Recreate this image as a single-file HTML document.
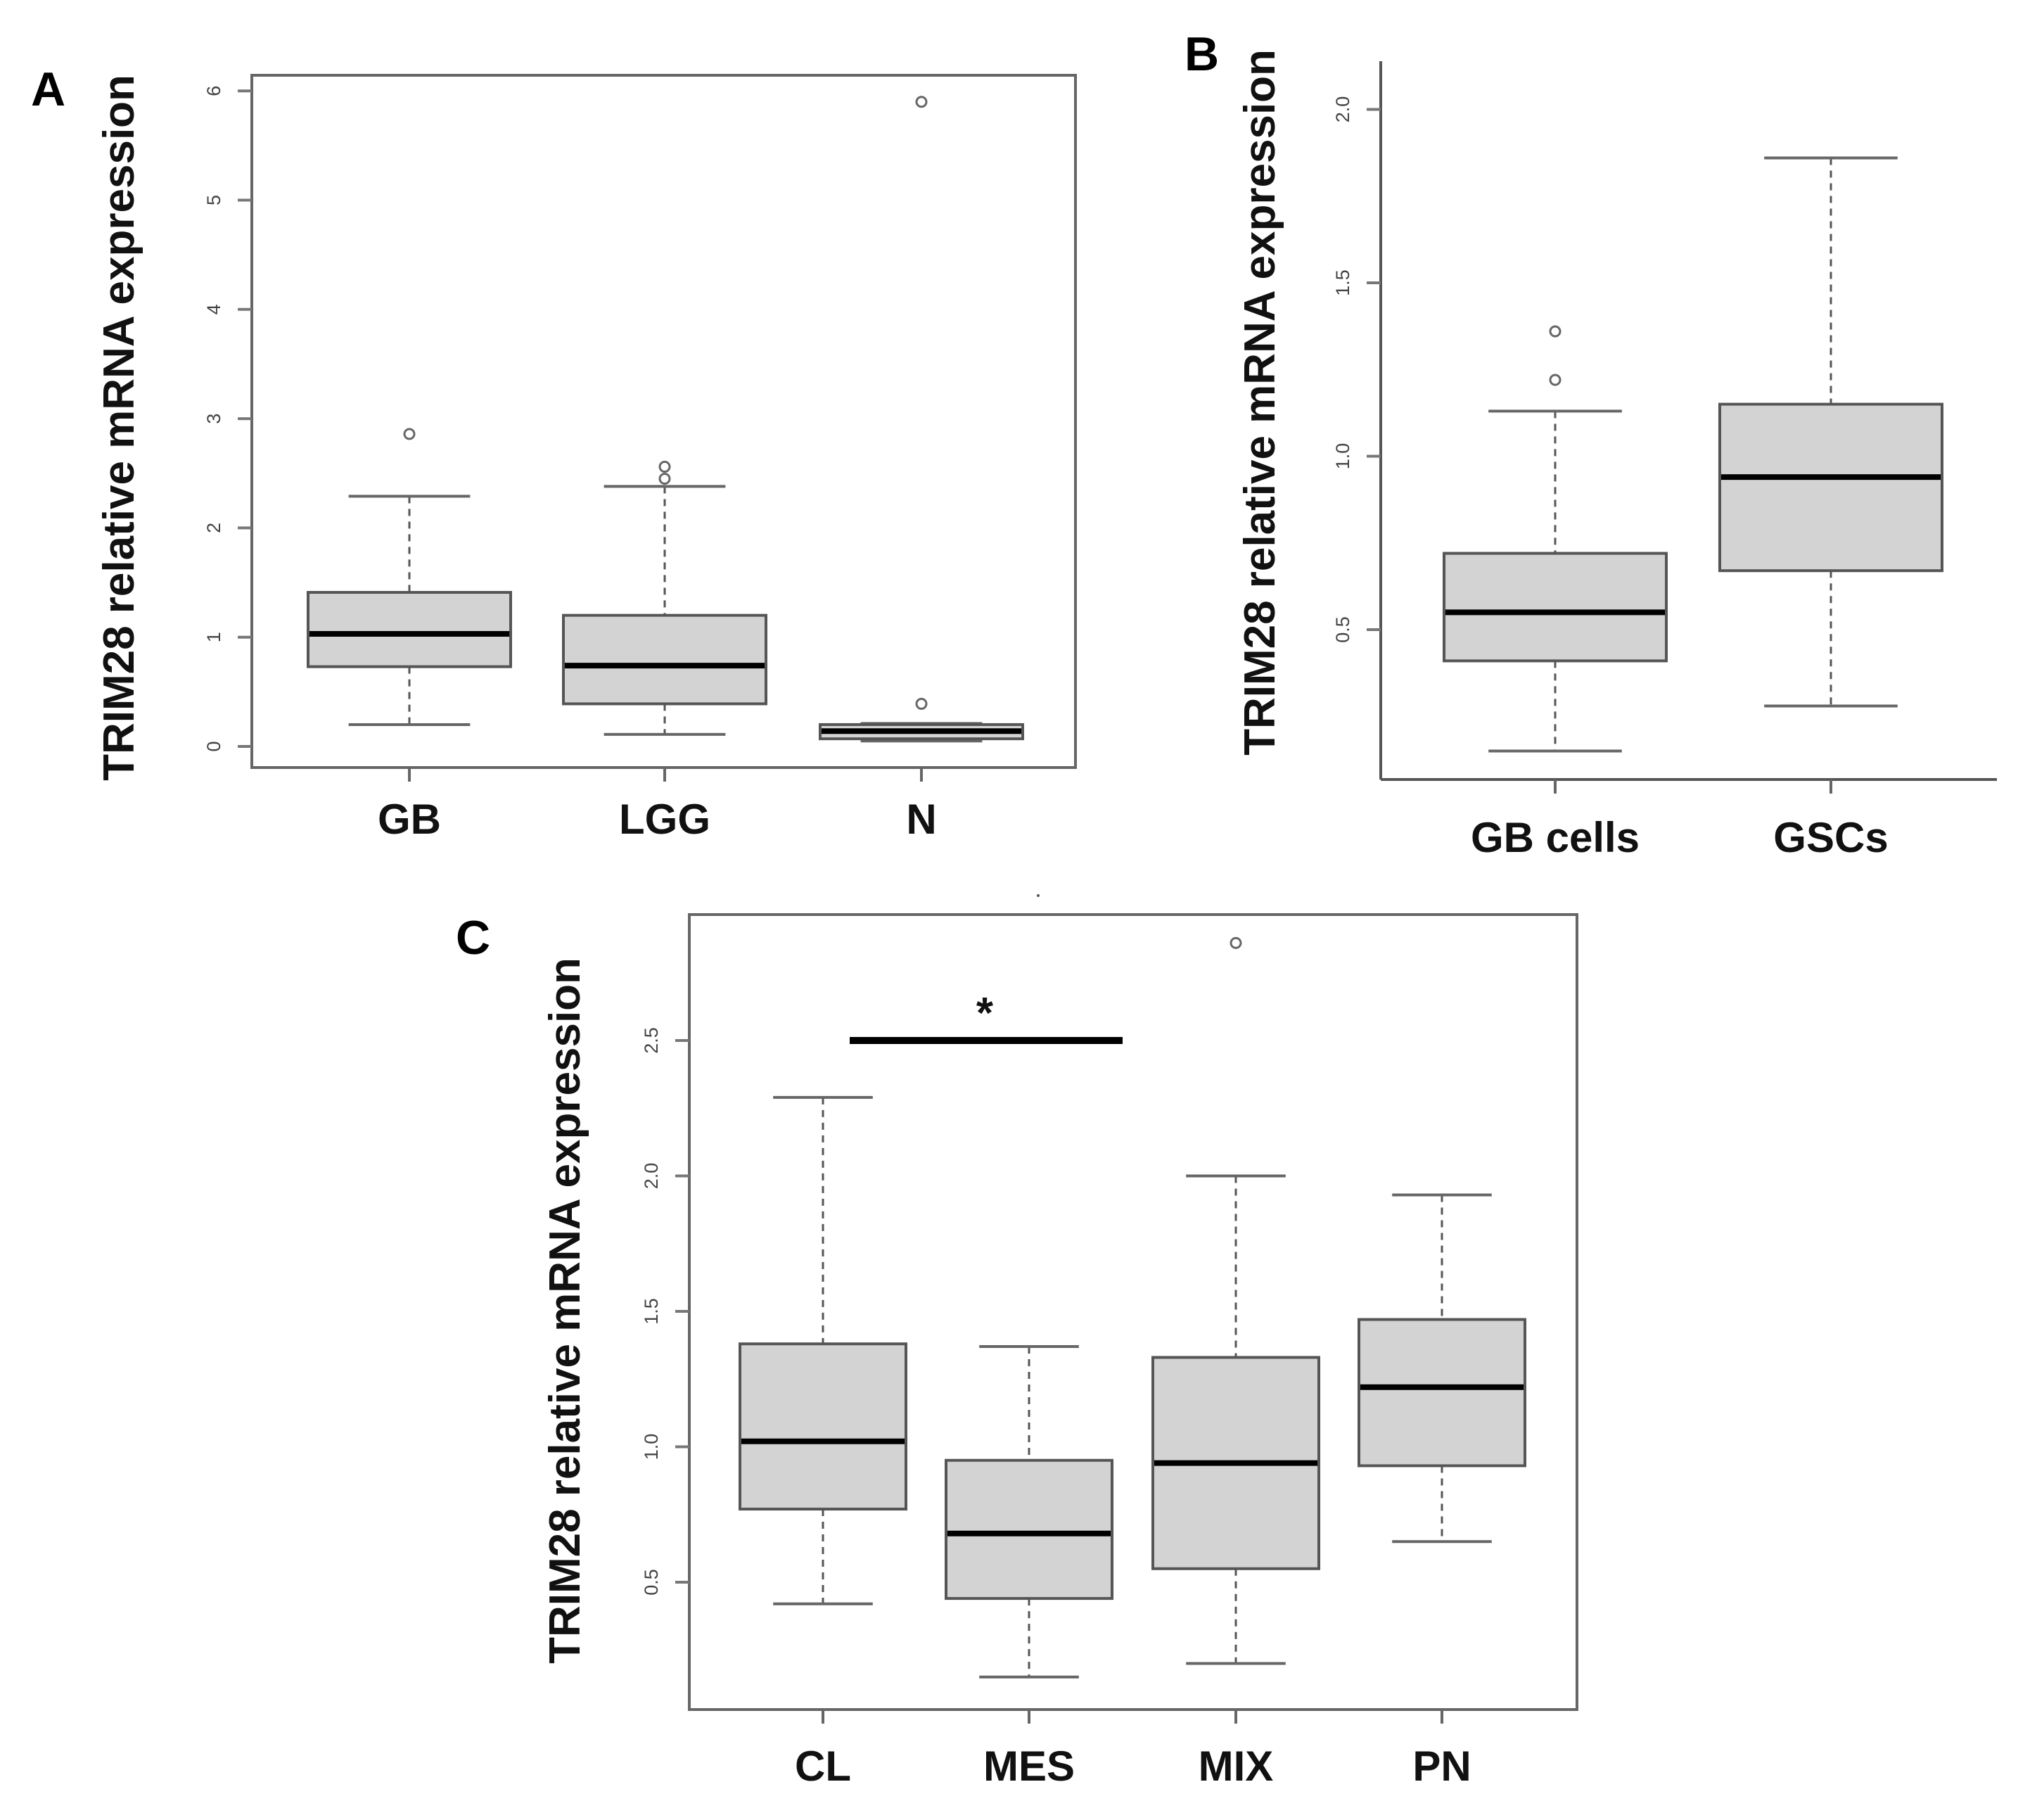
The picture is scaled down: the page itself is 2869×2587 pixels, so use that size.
<!DOCTYPE html>
<html><head><meta charset="utf-8"><style>
html,body{margin:0;padding:0;background:#fff;}
svg{display:block;}
text{font-family:"Liberation Sans",sans-serif;}
</style></head><body>
<svg id="fig" width="2869" height="2587" viewBox="0 0 2869 2587" xmlns="http://www.w3.org/2000/svg">
<rect width="2869" height="2587" fill="#fff"/>
<g id="gA"></g>
<g id="gB"></g>
<g id="gC"></g>
</svg>
<script>
// Panel A data
const catsA = ["GB","LGG","N"];
const medA = [1.03, 0.74, 0.14];
const q1A = [0.73, 0.39, 0.07];
const q3A = [1.41, 1.20, 0.20];
const loA = [0.20, 0.11, 0.05];
const hiA = [2.29, 2.38, 0.21];
const outA = [[2.86],[2.45,2.56],[0.39,5.90]];
const ticksA = [0,1,2,3,4,5,6];
const tickLabA = ["0","1","2","3","4","5","6"];
// Panel B data
const catsB = ["GB cells","GSCs"];
const medB = [0.55, 0.94];
const q1B = [0.41, 0.67];
const q3B = [0.72, 1.15];
const loB = [0.15, 0.28];
const hiB = [1.13, 1.86];
const outB = [[1.22,1.36],[]];
const ticksB = [0.5,1.0,1.5,2.0];
const tickLabB = ["0.5","1.0","1.5","2.0"];
// Panel C data
const catsC = ["CL","MES","MIX","PN"];
const medC = [1.02, 0.68, 0.94, 1.22];
const q1C = [0.77, 0.44, 0.55, 0.93];
const q3C = [1.38, 0.95, 1.33, 1.47];
const loC = [0.42, 0.15, 0.20, 0.65];
const hiC = [2.29, 1.37, 2.00, 1.93];
const outC = [[],[],[2.86],[]];
const ticksC = [0.5,1.0,1.5,2.0,2.5];
const tickLabC = ["0.5","1.0","1.5","2.0","2.5"];
const sigC = [0, 1, 2.5]; // from group, to group, y value

const NS="http://www.w3.org/2000/svg";
function mk(parent, tag, attrs){
  const e=document.createElementNS(NS,tag);
  for(const k in attrs) e.setAttribute(k,attrs[k]);
  parent.appendChild(e);
  return e;
}
function panel(g, cfg){
  const y = v => cfg.y0 + (v - cfg.v0) * cfg.k;
  if(cfg.box){
    const f=mk(g,'rect',{x:cfg.L,y:cfg.T,width:cfg.R-cfg.L,height:cfg.B-cfg.T,fill:'none',stroke:'#666','stroke-width':4});
    
    
  } else {
    const a1=mk(g,'line',{x1:cfg.L,y1:cfg.T,x2:cfg.L,y2:cfg.B,stroke:'#555','stroke-width':4});
    
    
    const a2=mk(g,'line',{x1:cfg.L,y1:cfg.B,x2:cfg.R,y2:cfg.B,stroke:'#555','stroke-width':4});
    
    
  }
  cfg.ticks.forEach((t,i)=>{
    const ty=y(t);
    const tl=mk(g,'line',{x1:cfg.L-20,y1:ty,x2:cfg.L,y2:ty,stroke:'#777','stroke-width':4});
    
    
    const tx=mk(g,'text',{x:cfg.L-45,y:ty,'font-size':27,fill:'#444','text-anchor':'middle',transform:`rotate(-90 ${cfg.L-45} ${ty})`});
    tx.textContent=cfg.tickLab[i];
    
    
  });
  cfg.cats.forEach((c,i)=>{
    const cx=cfg.cx[i], hw=cfg.bw/2, cap=cfg.bw*0.3;
    const xt=mk(g,'line',{x1:cx,y1:cfg.B,x2:cx,y2:cfg.B+20,stroke:'#666','stroke-width':4});
    
    
    const w1=mk(g,'line',{x1:cx,y1:y(cfg.hi[i]),x2:cx,y2:y(cfg.q3[i]),stroke:'#555','stroke-width':3,'stroke-dasharray':'10 8'});
    
    
    const w2=mk(g,'line',{x1:cx,y1:y(cfg.q1[i]),x2:cx,y2:y(cfg.lo[i]),stroke:'#555','stroke-width':3,'stroke-dasharray':'10 8'});
    
    
    const c1=mk(g,'line',{x1:cx-cap,y1:y(cfg.hi[i]),x2:cx+cap,y2:y(cfg.hi[i]),stroke:'#666','stroke-width':4});
    
    
    const c2=mk(g,'line',{x1:cx-cap,y1:y(cfg.lo[i]),x2:cx+cap,y2:y(cfg.lo[i]),stroke:'#666','stroke-width':4});
    
    
    const b=mk(g,'rect',{x:cx-hw,y:y(cfg.q3[i]),width:cfg.bw,height:y(cfg.q1[i])-y(cfg.q3[i]),fill:'#d3d3d3',stroke:'#555','stroke-width':4});
    
    
    const m=mk(g,'line',{x1:cx-hw+2,y1:y(cfg.med[i]),x2:cx+hw-2,y2:y(cfg.med[i]),stroke:'#000','stroke-width':8});
    
    
    cfg.out[i].forEach(o=>{
      const p=mk(g,'circle',{cx:cx,cy:y(o),r:7,fill:'none',stroke:'#666','stroke-width':3});
      
      
    });
    const lab=mk(g,'text',{x:cx,y:cfg.labY,'font-size':60,'font-weight':'bold',fill:'#111','text-anchor':'middle'});
    lab.textContent=c;
    
    
  });
  const yl=mk(g,'text',{x:cfg.ylx,y:cfg.yly,'font-size':62,'font-weight':'bold',fill:'#111','text-anchor':'middle',transform:`rotate(-90 ${cfg.ylx} ${cfg.yly})`});
  yl.textContent='TRIM28 relative mRNA expression';
  
  
  const pl=mk(g,'text',{x:cfg.px,y:cfg.py,'font-size':68,'font-weight':'bold',fill:'#000'});
  pl.textContent=cfg.letter;
  
  
  return y;
}
panel(document.getElementById('gA'),{box:true,L:358,R:1529,T:107,B:1091,y0:1061,v0:0,k:-155.3,
  ticks:ticksA,tickLab:tickLabA,cats:catsA,cx:[582,945,1310],bw:288,
  med:medA,q1:q1A,q3:q3A,lo:loA,hi:hiA,out:outA,labY:1185,ylx:190,yly:608,px:44,py:150,letter:'A'});
panel(document.getElementById('gB'),{box:false,L:1963,R:2839,T:87,B:1108,y0:895,v0:0.5,k:-493,
  ticks:ticksB,tickLab:tickLabB,cats:catsB,cx:[2211,2603],bw:316,
  med:medB,q1:q1B,q3:q3B,lo:loB,hi:hiB,out:outB,labY:1211,ylx:1812,yly:572,px:1684,py:100,letter:'B'});
const cxC=[1170,1463,1757,2050];
const yC=panel(document.getElementById('gC'),{box:true,L:980,R:2242,T:1300,B:2430,y0:2249,v0:0.5,k:-385,
  ticks:ticksC,tickLab:tickLabC,cats:catsC,cx:cxC,bw:236,
  med:medC,q1:q1C,q3:q3C,lo:loC,hi:hiC,out:outC,labY:2531,ylx:824,yly:1863,px:648,py:1356,letter:'C'});
const gC=document.getElementById('gC');
const sb=mk(gC,'line',{x1:cxC[sigC[0]]+38,y1:yC(sigC[2]),x2:cxC[sigC[1]]+133,y2:yC(sigC[2]),stroke:'#000','stroke-width':10});


const st=mk(gC,'text',{x:1400,y:yC(sigC[2])-18,'font-size':62,'font-weight':'bold',fill:'#111','text-anchor':'middle'});
st.textContent='*';


const dot=mk(gC,'circle',{cx:1476,cy:1273,r:2,fill:'#555'});


</script>
</body></html>
